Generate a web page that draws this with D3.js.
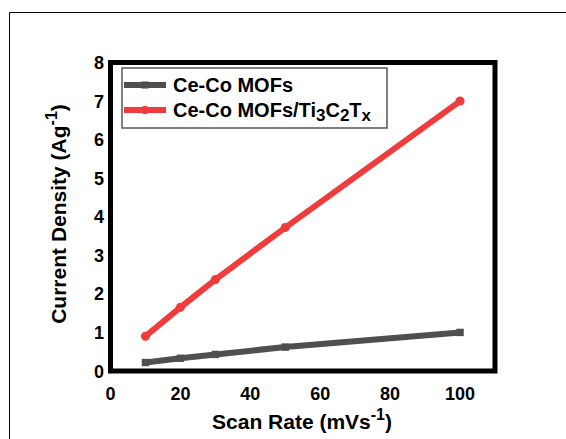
<!DOCTYPE html>
<html>
<head>
<meta charset="utf-8">
<script src="https://cdn.jsdelivr.net/npm/d3@7"></script>
<style>
  body { margin: 0; background: #fff; }
  text { font-family: "Liberation Sans", Arial, sans-serif; font-weight: bold; }
</style>
</head>
<body>
<svg id="chart" width="566" height="439"></svg>
<script>
var scanRate = [10, 20, 30, 50, 100];
var ceCo = [0.22, 0.33, 0.43, 0.62, 1.0];
var ceCoTi = [0.9, 1.65, 2.37, 3.72, 7.0];
var xTicks = [0, 20, 40, 60, 80, 100];
var yTicks = [0, 1, 2, 3, 4, 5, 6, 7, 8];

(function () {
    var svg = d3.select('#chart');

    // outer frame of the figure (cut at the right and bottom)
    svg.append('path')
        .attr('d', 'M9.5,440 V12.5 H567')
        .attr('fill', 'none').attr('stroke', '#000').attr('stroke-width', 1);

    var pLeft = 110.5, pRight = 495, pTop = 62.5, pBottom = 371;

    var x = d3.scaleLinear().domain([0, 110]).range([pLeft, pRight]);
    var y = d3.scaleLinear().domain([0, 8]).range([pBottom, pTop]);

    // tick labels
    svg.append('g').selectAll('text').data(xTicks).enter().append('text')
        .attr('x', function (d) { return x(d); })
        .attr('y', 400)
        .attr('text-anchor', 'middle')
        .attr('font-size', 18)
        .text(function (d) { return d; });

    svg.append('g').selectAll('text').data(yTicks).enter().append('text')
        .attr('x', 104)
        .attr('y', function (d) { return y(d) + 6.5; })
        .attr('text-anchor', 'end')
        .attr('font-size', 18)
        .text(function (d) { return d; });

    // axis titles
    var xt = svg.append('text').attr('x', 302).attr('y', 429)
        .attr('text-anchor', 'middle').attr('font-size', 21);
    xt.append('tspan').text('Scan Rate (mVs');
    xt.append('tspan').attr('font-size', 16).attr('dy', -9).text('-1');
    xt.append('tspan').attr('dy', 9).text(')');

    var yt = svg.append('text')
        .attr('transform', 'translate(66,214) rotate(-90)')
        .attr('text-anchor', 'middle').attr('font-size', 21);
    yt.append('tspan').text('Current Density (Ag');
    yt.append('tspan').attr('font-size', 16).attr('dy', -9).text('-1');
    yt.append('tspan').attr('dy', 9).text(')');

    // series
    var series = [
        { name: 'Ce-Co MOFs', values: ceCo, color: '#4f4f4f', shape: 'square' },
        { name: 'Ce-Co MOFs/Ti3C2Tx', values: ceCoTi, color: '#f03c3c', shape: 'circle' }
    ];

    var line = d3.line()
        .x(function (d) { return x(d[0]); })
        .y(function (d) { return y(d[1]); });

    series.forEach(function (s) {
        var pts = d3.zip(scanRate, s.values);
        svg.append('path').datum(pts)
            .attr('d', line)
            .attr('fill', 'none')
            .attr('stroke', s.color)
            .attr('stroke-width', 6)
            .attr('stroke-linecap', 'round');
        var sym = d3.symbol()
            .type(s.shape === 'square' ? d3.symbolSquare : d3.symbolCircle)
            .size(s.shape === 'square' ? 55 : 65);
        svg.append('g').selectAll('path').data(pts).enter().append('path')
            .attr('transform', function (d) { return 'translate(' + x(d[0]) + ',' + y(d[1]) + ')'; })
            .attr('d', sym)
            .attr('fill', s.color);
    });

    // plot box
    svg.append('rect')
        .attr('x', pLeft).attr('y', pTop)
        .attr('width', pRight - pLeft).attr('height', pBottom - pTop)
        .attr('fill', 'none').attr('stroke', '#000').attr('stroke-width', 5);

    // legend
    var lg = svg.append('g');
    lg.append('rect').attr('x', 122).attr('y', 68).attr('width', 265).attr('height', 60)
        .attr('fill', '#fff').attr('stroke', '#555').attr('stroke-width', 1.5);

    series.forEach(function (s, i) {
        var ly = 85 + i * 25;
        lg.append('line').attr('x1', 124).attr('x2', 166).attr('y1', ly).attr('y2', ly)
            .attr('stroke', s.color).attr('stroke-width', 6);
        var sym = d3.symbol()
            .type(s.shape === 'square' ? d3.symbolSquare : d3.symbolCircle)
            .size(s.shape === 'square' ? 50 : 55);
        lg.append('path').attr('transform', 'translate(145,' + ly + ')').attr('d', sym).attr('fill', s.color);
        var t = lg.append('text').attr('x', 173).attr('y', ly + 7).attr('font-size', 20);
        if (i === 0) {
            t.text(s.name);
        } else {
            t.append('tspan').text('Ce-Co MOFs/Ti');
            t.append('tspan').attr('font-size', 17).attr('dy', 4).text('3');
            t.append('tspan').attr('dy', -4).text('C');
            t.append('tspan').attr('font-size', 17).attr('dy', 4).text('2');
            t.append('tspan').attr('dy', -4).text('T');
            t.append('tspan').attr('font-size', 17).attr('dy', 4).text('x');
        }
    });
})();
</script>
</body>
</html>
